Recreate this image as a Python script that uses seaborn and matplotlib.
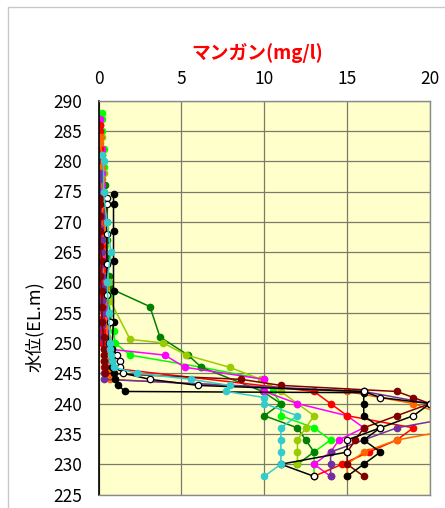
import matplotlib
matplotlib.use("Agg")
import matplotlib.pyplot as plt
from matplotlib.lines import Line2D
import pandas as pd
import seaborn as sns

# Manganese profiles (mg/l) against water level (EL.m), one list pair per survey
lime_el = [288, 287, 285, 282, 279, 276, 273, 270, 267, 264, 261, 258, 255, 252, 250, 248, 246, 244, 242, 240, 238, 236, 234, 232, 230, 228]
lime_mn = [0.2, 0.2, 0.2, 0.3, 0.3, 0.3, 0.3, 0.3, 0.4, 0.3, 0.4, 0.6, 0.7, 0.9, 1.0, 1.9, 6.2, 10.0, 10.5, 11.0, 11.0, 13.0, 14.0, 13.0, 13.0, 13.0]

dg_el = [276, 273, 270, 267, 264, 261, 259, 256, 251, 248, 246, 242, 240, 238, 236, 234, 232, 230]
dg_mn = [0.4, 0.4, 0.5, 0.5, 0.5, 0.6, 0.7, 3.1, 3.7, 5.4, 6.2, 9.9, 11.0, 10.0, 12.0, 12.5, 13.0, 12.0]

yg_el = [284, 281, 278, 275, 272, 269, 266, 263, 260, 257, 250.6, 250.0, 248, 246, 244, 242, 240, 238, 236, 234, 232, 230]
yg_mn = [0.2, 0.2, 0.3, 0.3, 0.3, 0.4, 0.4, 0.5, 0.6, 0.7, 1.9, 3.9, 5.3, 7.9, 9.8, 11.0, 12.0, 13.0, 12.5, 12.0, 12.0, 12.0]

mg_el = [287, 286, 284, 282, 280, 278, 276, 274, 272, 270, 268, 266, 264, 262, 260, 258, 256, 254, 252, 249, 248, 246, 244, 242, 240, 238, 236, 234, 232, 230, 228]
mg_mn = [0.1, 0.1, 0.1, 0.2, 0.2, 0.2, 0.2, 0.3, 0.2, 0.2, 0.3, 0.2, 0.2, 0.3, 0.3, 0.3, 0.3, 0.3, 0.4, 0.6, 4.0, 5.2, 10.0, 10.0, 12.0, 15.0, 16.0, 14.5, 14.0, 13.0, 14.0]

rd_el = [286, 285, 284, 282, 280, 278, 276, 274, 272, 270, 268, 266, 264, 262, 260, 258, 256, 254, 252, 250, 248, 246, 242, 240, 238, 236, 234, 232, 230, 228]
rd_mn = [0.1, 0.1, 0.1, 0.1, 0.2, 0.1, 0.1, 0.2, 0.2, 0.1, 0.2, 0.2, 0.1, 0.2, 0.2, 0.2, 0.1, 0.2, 0.2, 0.2, 0.3, 0.3, 13.0, 14.0, 15.0, 19.0, 18.0, 16.3, 14.7, 13.0]

or_el = [284, 283, 281, 279, 277, 275, 273, 271, 269, 267, 265, 263, 261, 259, 257, 255, 253, 251, 249, 247, 245, 244, 242, 240, 238, 236, 234, 232, 230, 228]
or_mn = [0.1, 0.1, 0.2, 0.2, 0.2, 0.2, 0.3, 0.2, 0.2, 0.3, 0.3, 0.3, 0.3, 0.4, 0.4, 0.4, 0.5, 0.5, 0.5, 0.5, 0.6, 0.7, 15.0, 19.0, 21.0, 22.0, 18.0, 16.0, 15.0, 15.0]

pu_el = [278, 277, 275, 273, 271, 269, 267, 265, 263, 261, 259, 257, 255, 253, 251, 249, 247, 245, 244, 242, 240, 238, 236, 234, 232, 230, 228]
pu_mn = [0.1, 0.1, 0.1, 0.1, 0.2, 0.1, 0.2, 0.2, 0.2, 0.2, 0.2, 0.2, 0.3, 0.2, 0.2, 0.3, 0.3, 0.3, 0.35, 16.0, 20.0, 22.0, 18.0, 16.0, 14.0, 14.0, 14.0]

dr_el = [274, 273, 271, 268.5, 266, 263.5, 261, 258.5, 256, 253.5, 251, 249, 248, 247, 246, 245, 244, 243, 242, 241, 240, 238, 236, 234, 232, 230, 228]
dr_mn = [0.1, 0.1, 0.1, 0.1, 0.1, 0.2, 0.1, 0.2, 0.2, 0.2, 0.3, 0.3, 0.3, 0.3, 0.4, 0.4, 8.6, 11.0, 18.0, 19.0, 20.0, 18.0, 16.0, 15.5, 15.0, 15.0, 16.0]

bk_el = [274.6, 273, 268.5, 263.5, 258.5, 253.5, 249, 248, 247, 246, 245, 244, 243, 242, 241.8, 240, 238, 236, 234, 232, 230, 228]
bk_mn = [0.9, 0.9, 0.9, 0.9, 0.9, 0.9, 0.8, 0.8, 0.8, 0.8, 0.9, 1.0, 1.2, 1.6, 16.0, 16.0, 16.0, 17.0, 16.0, 17.0, 16.0, 15.0]

wh_el = [274, 273, 268, 263, 258, 253.5, 250, 248, 247, 246, 245, 244, 243, 242, 241, 240, 238, 236, 234, 232, 230, 228]
wh_mn = [0.5, 0.5, 0.5, 0.5, 0.5, 0.7, 0.6, 1.1, 1.3, 1.3, 1.5, 3.1, 6.0, 16.0, 17.0, 20.0, 19.0, 17.0, 15.0, 15.0, 11.0, 13.0]

cy_el = [281, 280, 275, 270, 265, 260, 255, 250, 249, 248, 247, 246, 245, 244, 243, 242, 241, 240, 238, 236, 234, 232, 230, 228]
cy_mn = [0.2, 0.3, 0.3, 0.5, 0.75, 0.5, 0.6, 0.7, 0.7, 0.75, 0.8, 0.9, 2.3, 5.6, 7.9, 7.7, 10.0, 10.0, 12.0, 11.0, 11.0, 11.0, 11.0, 10.0]

x_ticks = [0, 5, 10, 15, 20]
y_ticks = [225, 230, 235, 240, 245, 250, 255, 260, 265, 270, 275, 280, 285, 290]

# (mn, el, line colour, marker face colour, marker edge colour)
series = [
    (lime_mn, lime_el, "#00FF00", "#00FF00", "#00FF00"),
    (dg_mn, dg_el, "#008000", "#008000", "#008000"),
    (yg_mn, yg_el, "#99CC00", "#99CC00", "#99CC00"),
    (mg_mn, mg_el, "#FF00FF", "#FF00FF", "#FF00FF"),
    (rd_mn, rd_el, "#FF0000", "#FF0000", "#FF0000"),
    (or_mn, or_el, "#FF6600", "#FF6600", "#FF6600"),
    (pu_mn, pu_el, "#7030A0", "#7030A0", "#7030A0"),
    (dr_mn, dr_el, "#800000", "#800000", "#800000"),
    (bk_mn, bk_el, "#000000", "#000000", "#000000"),
    (wh_mn, wh_el, "#000000", "#FFFFFF", "#000000"),
    (cy_mn, cy_el, "#33CCCC", "#33CCCC", "#33CCCC"),
]

sns.set_theme(style="white")
plt.rcParams["font.family"] = ["Noto Sans CJK JP", "DejaVu Sans"]

W, H = 445, 508
fig = plt.figure(figsize=(W / 100, H / 100), dpi=100)
fig.patch.set_facecolor("white")

left, right, top, bottom = 98.6, 430.0, 100.6, 494.5
ax = fig.add_axes([left / W, 1 - bottom / H, (right - left) / W, (bottom - top) / H])
ax.set_facecolor("#FFFFCC")

for mn, el, lc, fc, ec in series:
    df = pd.DataFrame({"mn": mn, "el": el})
    sns.lineplot(data=df, x="mn", y="el", sort=False, estimator=None, ax=ax,
                 color=lc, linewidth=1.1, marker="o", markersize=4.6,
                 markerfacecolor=fc, markeredgecolor=ec, markeredgewidth=0.9)

ax.set_xlim(0, 20)
ax.set_ylim(225, 290)
ax.set_xticks(x_ticks)
ax.set_yticks(y_ticks)
ax.xaxis.tick_top()
ax.set_xlabel("")
ax.set_ylabel("")
ax.grid(True, color="#7a7a6a", linewidth=0.9)
ax.set_axisbelow(True)
ax.tick_params(axis="both", length=0, labelsize=12.5, colors="black")
ax.tick_params(axis="y", pad=12)
ax.tick_params(axis="x", pad=9)

for side in ["top", "right", "bottom"]:
    ax.spines[side].set_color("#8a8a8a")
    ax.spines[side].set_linewidth(1.0)
ax.spines["left"].set_color("black")
ax.spines["left"].set_linewidth(1.2)

fig.text(257 / W, 1 - 53 / H, "マンガン(mg/l)", color="#FF0000", fontsize=13.5,
         fontweight="bold", ha="center", va="center")
fig.text(35 / W, 1 - 327 / H, "水位(EL.m)", color="black", fontsize=13,
         rotation=90, ha="center", va="center")

# chart-area frame
fig.add_artist(Line2D([8 / W, 1.0], [1 - 7 / H, 1 - 7 / H], color="#c8c8c8", linewidth=1.0))
fig.add_artist(Line2D([8 / W, 8 / W], [0.0, 1 - 7 / H], color="#c8c8c8", linewidth=1.0))

fig.savefig("out.png", dpi=100, facecolor="white")
